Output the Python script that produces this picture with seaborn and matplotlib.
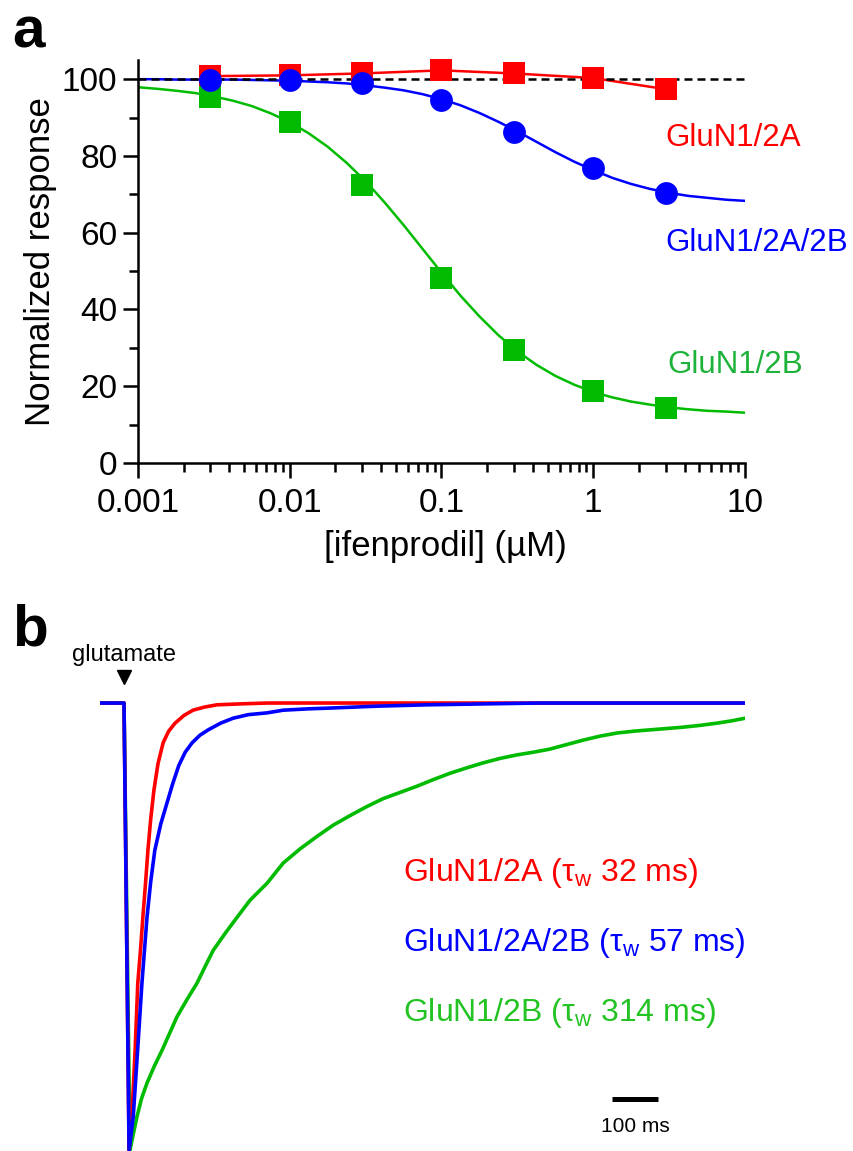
"""ifenprodil dose-response (a) and glutamate-evoked currents (b)"""

import numpy as np
import seaborn as sns
import matplotlib.pyplot as plt
from matplotlib.ticker import FixedLocator, MultipleLocator, NullFormatter

# ---- panel a data ----
conc = [0.003, 0.01, 0.03, 0.1, 0.3, 1, 3]
resp_2a = [100.8, 101.0, 101.5, 102.3, 101.5, 100.3, 97.4]
resp_2a2b = [99.7, 99.7, 99.0, 94.5, 86.2, 76.8, 70.3]
resp_2b = [95.3, 88.8, 72.4, 48.2, 29.4, 18.8, 14.3]

fit_conc = np.logspace(-3, 1, 33)
fit_2a2b = [100.0, 100.0, 99.9, 99.9, 99.9, 99.9, 99.8, 99.7, 99.6, 99.4, 99.2,
            98.9, 98.4, 97.8, 97.1, 96.1, 94.8, 93.2, 91.2, 88.9, 86.4, 83.7,
            81.0, 78.5, 76.3, 74.3, 72.7, 71.4, 70.4, 69.6, 69.1, 68.6, 68.3]
fit_2b = [97.9, 97.5, 97.0, 96.4, 95.5, 94.4, 93.0, 91.1, 88.8, 85.9, 82.4,
          78.2, 73.4, 67.9, 62.0, 55.8, 49.6, 43.6, 38.2, 33.3, 29.1, 25.6,
          22.7, 20.4, 18.5, 17.1, 16.0, 15.2, 14.5, 14.0, 13.6, 13.4, 13.1]
control_level = 100

x_ticks = [0.001, 0.01, 0.1, 1, 10]
x_ticklabels = ["0.001", "0.01", "0.1", "1", "10"]
y_ticks = [0, 20, 40, 60, 80, 100]

# ---- panel b data (time in ms, current normalised to peak) ----
t_2a = [-52, 0, 11, 17, 24, 30, 36, 41, 47, 52, 58, 65, 74, 85, 97, 111, 130,
        150, 175, 202, 250, 311, 1350]
i_2a = [0, 0, -1.0, -0.926, -0.78, -0.626, -0.55, -0.479, -0.40, -0.329, -0.26,
        -0.195, -0.135, -0.089, -0.063, -0.045, -0.028, -0.016, -0.009, -0.004,
        -0.002, 0, 0]
t_2a2b = [-52, 0, 11, 20, 30, 39, 50, 58, 67, 80, 93, 106, 119, 133, 148, 165,
          183, 210, 237, 270, 311, 346, 400, 454, 550, 659, 900, 1350]
i_2a2b = [0, 0, -1.0, -0.926, -0.77, -0.626, -0.479, -0.40, -0.329, -0.27,
          -0.225, -0.18, -0.14, -0.11, -0.089, -0.072, -0.060, -0.045, -0.034,
          -0.026, -0.022, -0.016, -0.013, -0.011, -0.007, -0.004, 0, 0]
t_2b = [-52, 0, 13, 20, 28, 38, 50, 66, 83, 99, 115, 137, 159, 176, 194, 220,
        246, 274, 311, 346, 383, 420, 455, 491, 527, 563, 600, 637, 673, 709,
        745, 780, 817, 854, 890, 926, 962, 998, 1035, 1072, 1108, 1143, 1180,
        1215, 1252, 1289, 1320, 1350]
i_2b = [0, 0, -1.0, -0.965, -0.926, -0.885, -0.850, -0.812, -0.776, -0.739,
        -0.702, -0.663, -0.626, -0.590, -0.553, -0.515, -0.479, -0.441, -0.403,
        -0.358, -0.326, -0.298, -0.273, -0.252, -0.232, -0.214, -0.200, -0.186,
        -0.171, -0.157, -0.145, -0.134, -0.124, -0.116, -0.110, -0.103, -0.093,
        -0.083, -0.074, -0.067, -0.063, -0.060, -0.057, -0.054, -0.050, -0.045,
        -0.040, -0.034]
glu_onset = 0
scale_start, scale_len = 1061, 100

RED = "#ff0000"
BLUE = "#0000ff"
GREEN = "#00bb00"

sns.set_style("ticks", {"text.color": "black", "axes.labelcolor": "black",
                        "xtick.color": "black", "ytick.color": "black",
                        "axes.edgecolor": "black"})
plt.rcParams["font.family"] = ["Liberation Sans", "DejaVu Sans"]
plt.rcParams["mathtext.fontset"] = "custom"
plt.rcParams["mathtext.rm"] = "Liberation Sans"

W, H = 854, 1151
fig = plt.figure(figsize=(W / 100, H / 100), dpi=100)

# ---------------- panel a ----------------
ax = fig.add_axes([138 / W, 1 - 463 / H, 607 / W, 403 / H])
ax.set_xscale("log")

ax.axhline(control_level, color="black", lw=1.8, dashes=(3.2, 2.0), zorder=3)
sns.lineplot(x=conc, y=resp_2a, color=RED, lw=1.8, ax=ax, estimator=None, zorder=2)
sns.lineplot(x=fit_conc, y=fit_2b, color=GREEN, lw=1.8, ax=ax, estimator=None, zorder=2)
sns.lineplot(x=fit_conc, y=fit_2a2b, color=BLUE, lw=1.8, ax=ax, estimator=None, zorder=2)
sns.scatterplot(x=conc, y=resp_2a, marker="s", s=270, color=RED, linewidth=0,
                ax=ax, zorder=4, clip_on=False)
sns.scatterplot(x=conc, y=resp_2b, marker="s", s=270, color=GREEN, linewidth=0,
                ax=ax, zorder=5, clip_on=False)
sns.scatterplot(x=conc, y=resp_2a2b, marker="o", s=270, color=BLUE, linewidth=0,
                ax=ax, zorder=6, clip_on=False)

ax.set_xlim(0.001, 10)
ax.set_ylim(0, 105)
ax.xaxis.set_major_locator(FixedLocator(x_ticks))
ax.set_xticklabels(x_ticklabels)
ax.xaxis.set_minor_formatter(NullFormatter())
ax.set_yticks(y_ticks)
ax.yaxis.set_minor_locator(MultipleLocator(10))
sns.despine(ax=ax)
for side in ["left", "bottom"]:
    ax.spines[side].set_linewidth(1.8)
ax.tick_params(which="major", length=10.8, width=1.8, labelsize=24, color="black")
ax.tick_params(axis="x", which="major", pad=7)
ax.tick_params(axis="y", which="major", pad=4)
ax.tick_params(which="minor", length=6.5, width=1.8, color="black")

ax.set_xlabel("[ifenprodil] (µM)", fontsize=25)
ax.set_ylabel("Normalized response", fontsize=25)
ax.xaxis.set_label_coords(0.506, -0.166)
ax.yaxis.set_label_coords(-0.134, 0.5)

fig.text(665 / W, 1 - 138 / H, "GluN1/2A", color=RED, fontsize=22.5, va="center")
fig.text(665 / W, 1 - 243 / H, "GluN1/2A/2B", color=BLUE, fontsize=22.5, va="center")
fig.text(667 / W, 1 - 365 / H, "GluN1/2B", color="#1db33a", fontsize=22.5, va="center")

# ---------------- panel b ----------------
axb = fig.add_axes([100 / W, 0, 645 / W, 511 / H])
sns.lineplot(x=t_2b, y=i_2b, color=GREEN, lw=2.6, ax=axb, estimator=None)
sns.lineplot(x=t_2a, y=i_2a, color=RED, lw=2.6, ax=axb, estimator=None)
sns.lineplot(x=t_2a2b, y=i_2a2b, color=BLUE, lw=2.6, ax=axb, estimator=None)
axb.set_xlim(-52.2, 1350)
axb.set_ylim(-1.002, 0.141)
axb.axis("off")

axb.plot(glu_onset, 0.058, marker="v", ms=10, color="black", clip_on=False)
axb.text(glu_onset, 0.094, "glutamate", ha="center", va="baseline", fontsize=17)
axb.plot([scale_start, scale_start + scale_len], [-0.886, -0.886], color="black",
         lw=3.6, solid_capstyle="butt")
axb.text(scale_start + scale_len / 2, -0.96, f"{scale_len} ms", ha="center",
         va="baseline", fontsize=15)

fig.text(403 / W, 1 - 873 / H, r"GluN1/2A (τ$_\mathrm{w}$ 32 ms)", color=RED,
         fontsize=23, va="center")
fig.text(403 / W, 1 - 943 / H, r"GluN1/2A/2B (τ$_\mathrm{w}$ 57 ms)", color=BLUE,
         fontsize=23, va="center")
fig.text(403 / W, 1 - 1013 / H, r"GluN1/2B (τ$_\mathrm{w}$ 314 ms)", color="#22c322",
         fontsize=23, va="center")

# panel letters
fig.text(12 / W, 1 - 47 / H, "a", fontsize=42, fontweight="bold", va="baseline")
fig.text(12 / W, 1 - 646 / H, "b", fontsize=42, fontweight="bold", va="baseline")

fig.savefig("out.png", dpi=100)
